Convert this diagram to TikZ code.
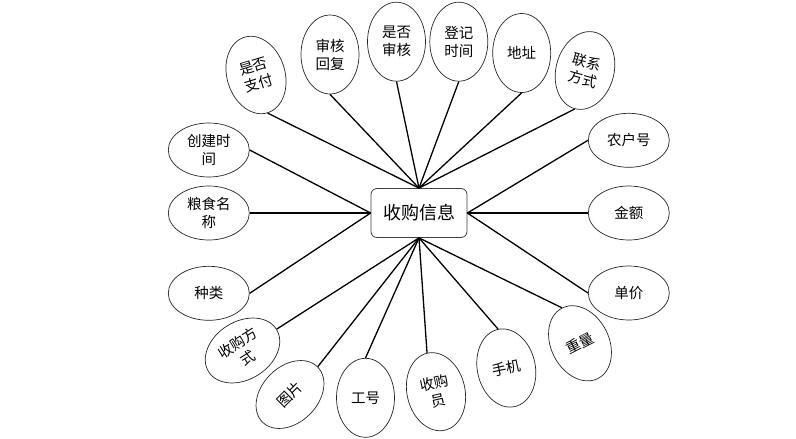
\documentclass[tikz,border=0pt]{standalone}
\usepackage{fontspec}
\newfontfamily\cjk{Noto Sans CJK SC}
\usetikzlibrary{shapes.geometric}
\tikzset{
  attrv/.style={ellipse,draw=black!85,line width=0.7pt,inner sep=0pt,minimum width=58pt,minimum height=79pt,align=center,font=\cjk\fontsize{14.5pt}{18pt}\selectfont},
  attrh/.style={ellipse,draw=black!85,line width=0.7pt,inner sep=0pt,minimum width=81pt,minimum height=54pt,align=center,font=\cjk\fontsize{14.5pt}{18pt}\selectfont},
  entity/.style={rectangle,rounded corners=6pt,draw=black!75,line width=0.8pt,minimum width=96pt,minimum height=49pt,inner sep=0pt,font=\cjk\fontsize{18pt}{22pt}\selectfont},
  link/.style={line width=1.3pt,black}
}
\begin{document}
\begin{tikzpicture}[x=1pt,y=-1pt]
\useasboundingbox[fill=white] (0,0) rectangle (796,439);
\node[entity] (c) at (419,213) {收购信息};
% top
\node[attrv,rotate=17] (zf) at (256,75) {是否\\支付};
\node[attrv] (shf) at (330,54.5) {审核\\回复};
\node[attrv] (sfsh) at (396.5,41.7) {是否\\审核};
\node[attrv] (djsj) at (458.8,41.7) {登记\\时间};
\node[attrv] (dz) at (521.7,53) {地址};
\node[attrv,rotate=-15] (lx) at (585,70.5) {联系\\方式};
% right
\node[attrh] (nh) at (628.8,140.3) {农户号};
\node[attrh] (je) at (628.8,213) {金额};
\node[attrh] (dj) at (628.8,293) {单价};
% bottom
\node[attrv,rotate=27] (zl) at (580,343.3) {重量};
\node[attrv,rotate=12] (sj) at (506.3,368) {手机};
\node[attrv,rotate=13] (sgy) at (436,391.7) {收购\\员};
\node[attrv] (gh) at (365.5,397.8) {工号};
\node[attrh,minimum width=78pt,minimum height=56pt,rotate=45] (tp) at (290,394.5) {图片};
\node[attrh,minimum width=80pt,minimum height=58pt,rotate=32] (sgfs) at (242.5,350.5) {收购方\\式};
% left
\node[attrh] (zlei) at (208.8,293.3) {种类};
\node[attrh] (lsmc) at (208.8,213) {粮食名\\称};
\node[attrh] (cjsj) at (208.8,150) {创建时\\间};
% connectors
\foreach \n in {zf,shf,sfsh,djsj,dz,lx} \draw[link] (\n.south) -- (c.north);
\foreach \n in {nh,je,dj} \draw[link] (\n.west) -- (c.east);
\foreach \n in {zl,sj,sgy,gh} \draw[link] (\n.north) -- (c.south);
\foreach \n in {tp,sgfs} \draw[link] (\n.east) -- (c.south);
\foreach \n in {zlei,lsmc,cjsj} \draw[link] (\n.east) -- (c.west);
\end{tikzpicture}
\end{document}
